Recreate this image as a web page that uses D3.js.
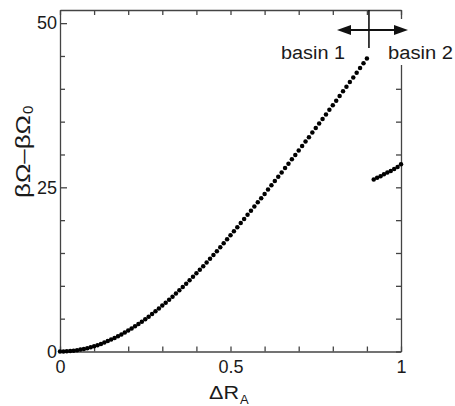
<!DOCTYPE html>
<html>
<head>
<meta charset="utf-8">
<script src="https://cdn.jsdelivr.net/npm/d3@7"></script>
<style>
	body { margin: 0; background: #fff; }
	svg { display: block; font-family: "Liberation Sans", Arial, Helvetica, sans-serif; }
	.axis path, .axis line { stroke: #444; stroke-width: 1.3; }
	.axis text { font-size: 18px; fill: #1a1a1a; font-family: "Liberation Sans", Arial, sans-serif; }
</style>
</head>
<body>
<svg id="chart" width="455" height="406"></svg>
<script>
// basin 1 : displacement dR_A and free energy difference
const basin1Dr = [
	0, 0.01, 0.02, 0.03, 0.04, 0.05, 0.06, 0.07, 0.08, 0.09,
	0.1, 0.11, 0.12, 0.13, 0.14, 0.15, 0.16, 0.17, 0.18, 0.19,
	0.2, 0.21, 0.22, 0.23, 0.24, 0.25, 0.26, 0.27, 0.28, 0.29,
	0.3, 0.31, 0.32, 0.33, 0.34, 0.35, 0.36, 0.37, 0.38, 0.39,
	0.4, 0.41, 0.42, 0.43, 0.44, 0.45, 0.46, 0.47, 0.48, 0.49,
	0.5, 0.51, 0.52, 0.53, 0.54, 0.55, 0.56, 0.57, 0.58, 0.59,
	0.6, 0.61, 0.62, 0.63, 0.64, 0.65, 0.66, 0.67, 0.68, 0.69,
	0.7, 0.71, 0.72, 0.73, 0.74, 0.75, 0.76, 0.77, 0.78, 0.79,
	0.8, 0.81, 0.82, 0.83, 0.84, 0.85, 0.86, 0.87, 0.88, 0.89,
	0.9
];
const basin1Omega = [
	0, 0.01, 0.03, 0.07, 0.13, 0.2, 0.29, 0.39, 0.51, 0.65,
	0.8, 0.97, 1.16, 1.36, 1.58, 1.81, 2.06, 2.32, 2.6, 2.89,
	3.2, 3.5, 3.83, 4.18, 4.54, 4.92, 5.31, 5.71, 6.13, 6.56,
	7.0, 7.44, 7.89, 8.35, 8.82, 9.31, 9.81, 10.32, 10.84, 11.37,
	11.9, 12.44, 12.99, 13.55, 14.12, 14.7, 15.28, 15.87, 16.47, 17.08,
	17.7, 18.31, 18.93, 19.55, 20.18, 20.81, 21.44, 22.07, 22.71, 23.35,
	24.0, 24.65, 25.3, 25.95, 26.61, 27.27, 27.93, 28.59, 29.26, 29.93,
	30.6, 31.28, 31.96, 32.64, 33.33, 34.02, 34.71, 35.4, 36.1, 36.8,
	37.5, 38.2, 38.9, 39.61, 40.32, 41.03, 41.74, 42.45, 43.16, 43.88,
	44.6
];

// basin 2
const basin2Dr = [0.92, 0.93, 0.94, 0.95, 0.96, 0.97, 0.98, 0.99, 1.0];
const basin2Omega = [26.2, 26.45, 26.7, 27.0, 27.25, 27.5, 27.8, 28.1, 28.5];

// ticks
const xTickValues = [0, 0.1, 0.2, 0.3, 0.4, 0.5, 0.6, 0.7, 0.8, 0.9, 1];
const xTickLabels = [0, 0.5, 1];
const yTickValues = [0, 5, 10, 15, 20, 25, 30, 35, 40, 45, 50];
const yTickLabels = [0, 25, 50];
const yDomainMax = 52;

// basin boundary marker
const boundaryDr = 0.906;

// frame
const plotLeft = 60;
const plotRight = 401;
const plotTop = 10;
const plotBottom = 351.5;

var svg = d3.select("#chart");

var x = d3.scaleLinear().domain([0, 1]).range([plotLeft, plotRight]);
var y = d3.scaleLinear().domain([0, yDomainMax]).range([plotBottom, plotTop]);

// label formatter: only some ticks get text
function xFmt(d) { return xTickLabels.some(v => Math.abs(v - d) < 1e-9) ? d3.format("~g")(d) : ""; }
function yFmt(d) { return yTickLabels.indexOf(d) >= 0 ? d : ""; }

// bottom axis (ticks pointing in)
svg.append("g")
	.attr("class", "axis")
	.attr("transform", `translate(0,${plotBottom})`)
	.call(d3.axisBottom(x).tickValues(xTickValues).tickSizeInner(-5).tickSizeOuter(0).tickPadding(9).tickFormat(xFmt));

// top axis
svg.append("g")
	.attr("class", "axis")
	.attr("transform", `translate(0,${plotTop})`)
	.call(d3.axisTop(x).tickValues(xTickValues).tickSizeInner(-5).tickSizeOuter(0).tickFormat(""));

// left axis, majors a little longer
var yAxisG = svg.append("g")
	.attr("class", "axis")
	.attr("transform", `translate(${plotLeft},0)`)
	.call(d3.axisLeft(y).tickValues(yTickValues).tickSizeInner(-5).tickSizeOuter(0).tickPadding(3).tickFormat(yFmt));
yAxisG.selectAll(".tick line").attr("x2", d => yTickLabels.indexOf(d) >= 0 ? 7 : 5);

// right axis
svg.append("g")
	.attr("class", "axis")
	.attr("transform", `translate(${plotRight},0)`)
	.call(d3.axisRight(y).tickValues(yTickValues).tickSizeInner(-5).tickSizeOuter(0).tickFormat(""));

// blank patch behind "basin 2"
svg.append("rect")
	.attr("x", plotRight - 16)
	.attr("y", 19)
	.attr("width", 455 - plotRight + 16)
	.attr("height", 46)
	.attr("fill", "#fff");

// dots
var pts1 = basin1Dr.map((d, i) => ({ dr: d, om: basin1Omega[i] }));
var pts2 = basin2Dr.map((d, i) => ({ dr: d, om: basin2Omega[i] }));

svg.append("g")
	.selectAll("circle")
	.data(pts1.concat(pts2))
	.enter()
	.append("circle")
	.attr("cx", d => x(d.dr))
	.attr("cy", d => y(d.om))
	.attr("r", 2.25)
	.attr("fill", "#000");

// basin boundary: vertical bar + double arrow
var bx = x(boundaryDr);
svg.append("line")
	.attr("x1", bx).attr("x2", bx)
	.attr("y1", plotTop).attr("y2", 48)
	.attr("stroke", "#111").attr("stroke-width", 1.6);

var arrowY = 30;
var arrowL = 337;
var arrowR = 408;
svg.append("line")
	.attr("x1", arrowL + 10).attr("x2", arrowR - 10)
	.attr("y1", arrowY).attr("y2", arrowY)
	.attr("stroke", "#111").attr("stroke-width", 1.8);
svg.append("path")
	.attr("d", `M${arrowL},${arrowY} L${arrowL + 14},${arrowY - 5} L${arrowL + 14},${arrowY + 5} Z`)
	.attr("fill", "#111");
svg.append("path")
	.attr("d", `M${arrowR},${arrowY} L${arrowR - 14},${arrowY - 5} L${arrowR - 14},${arrowY + 5} Z`)
	.attr("fill", "#111");

// basin labels
svg.append("text")
	.attr("x", 281).attr("y", 59)
	.attr("font-size", 18).attr("fill", "#1a1a1a")
	.attr("textLength", 64).attr("lengthAdjust", "spacingAndGlyphs")
	.text("basin 1");
svg.append("text")
	.attr("x", 388).attr("y", 59)
	.attr("font-size", 18).attr("fill", "#1a1a1a")
	.attr("textLength", 65).attr("lengthAdjust", "spacingAndGlyphs")
	.text("basin 2");

// x title
svg.append("text")
	.attr("x", 209).attr("y", 399)
	.attr("font-size", 18).attr("fill", "#1a1a1a")
	.attr("textLength", 30).attr("lengthAdjust", "spacingAndGlyphs")
	.text("ΔR");
svg.append("text")
	.attr("x", 240).attr("y", 404)
	.attr("font-size", 13).attr("fill", "#1a1a1a")
	.text("A");

// y title, rotated
var yTitle = svg.append("g")
	.attr("transform", "translate(30,198) rotate(-90)");
yTitle.append("text")
	.attr("x", 0).attr("y", 0)
	.attr("font-size", 21).attr("fill", "#1a1a1a")
	.attr("textLength", 83).attr("lengthAdjust", "spacingAndGlyphs")
	.text("βΩ–βΩ");
yTitle.append("text")
	.attr("x", 84).attr("y", 3)
	.attr("font-size", 15).attr("fill", "#1a1a1a")
	.text("0");
</script>
</body>
</html>
